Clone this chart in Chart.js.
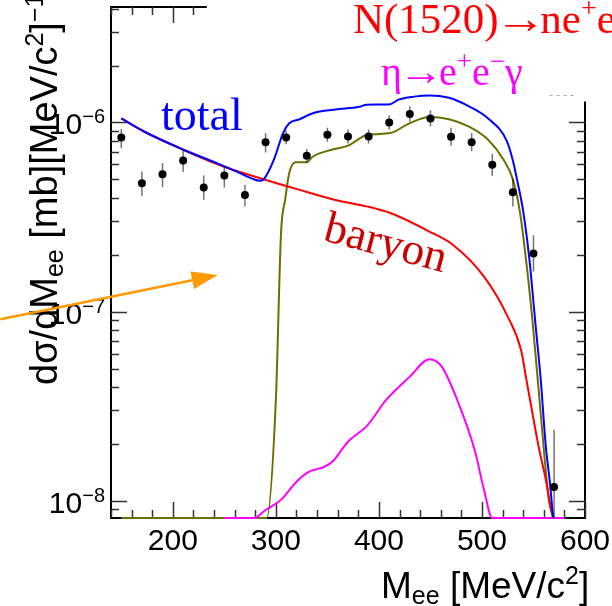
<!DOCTYPE html>
<html>
<head>
<meta charset="utf-8">
<script src="https://cdn.jsdelivr.net/npm/chart.js@4.4.0/dist/chart.umd.min.js"></script>
<style>
html, body { margin: 0; padding: 0; background: #fff; }
#contenedor { width: 612px; height: 606px; position: relative; }
</style>
</head>
<body>
<div id="contenedor"><canvas id="grafico"></canvas></div>
<script>
// Rango de los ejes
const X_MIN = 140, X_MAX = 600;
const Y_MIN = 8.1e-9, Y_MAX = 4.08e-6;

// Puntos experimentales con sus barras de error (limite alto / bajo)
const puntosX = [150, 170, 190, 210, 230, 250, 270, 290, 310, 330, 350, 370, 390, 410, 430, 450, 470, 490, 510, 530, 550, 570];
const puntosY = [8.34e-7, 4.77e-7, 5.33e-7, 6.29e-7, 4.53e-7, 5.25e-7, 4.14e-7, 7.87e-7, 8.34e-7, 6.66e-7, 8.61e-7, 8.43e-7, 8.43e-7, 1.00e-6, 1.11e-6, 1.05e-6, 8.40e-7, 7.87e-7, 5.97e-7, 4.27e-7, 2.03e-7, 1.18e-8];
const puntosAlto = [9.23e-7, 5.50e-7, 6.10e-7, 7.17e-7, 5.25e-7, 5.90e-7, 4.68e-7, 8.79e-7, 9.08e-7, 7.25e-7, 9.38e-7, 9.18e-7, 9.18e-7, 1.09e-6, 1.22e-6, 1.16e-6, 9.37e-7, 8.78e-7, 6.82e-7, 5.06e-7, 2.53e-7, 2.37e-8];
const puntosBajo = [7.33e-7, 4.09e-7, 4.55e-7, 5.47e-7, 3.90e-7, 4.53e-7, 3.59e-7, 6.94e-7, 7.66e-7, 6.12e-7, 7.91e-7, 7.74e-7, 7.74e-7, 9.18e-7, 1.01e-6, 9.53e-7, 7.53e-7, 7.05e-7, 5.22e-7, 3.60e-7, 1.63e-7, 5.0e-9];

// Curva total (azul)
const totalX = [150, 172, 210, 249, 265, 277, 284, 288, 298, 307, 313, 323, 336, 358, 381, 388, 411, 419, 434, 449, 468, 487, 506, 524, 530, 534, 540, 546, 548, 552, 557, 562, 566, 569];
const totalY = [1.05e-6, 8.96e-7, 7.2e-7, 5.9e-7, 5.4e-7, 5.05e-7, 4.92e-7, 5.0e-7, 6.35e-7, 8.79e-7, 9.9e-7, 1.04e-6, 1.12e-6, 1.17e-6, 1.21e-6, 1.24e-6, 1.25e-6, 1.32e-6, 1.37e-6, 1.39e-6, 1.35e-6, 1.22e-6, 1.05e-6, 8.0e-7, 6.3e-7, 5.0e-7, 3.4e-7, 1.9e-7, 1.47e-7, 8.5e-8, 4.4e-8, 1.93e-8, 1.24e-8, 8.1e-9];

// Contribucion barionica (rojo)
const barionX = [150, 172, 210, 249, 288, 323, 358, 388, 411, 449, 472, 502, 525, 538, 543, 549, 555, 562, 567, 570];
const barionY = [1.05e-6, 8.96e-7, 7.17e-7, 5.85e-7, 5.01e-7, 4.40e-7, 3.89e-7, 3.6e-7, 3.32e-7, 2.65e-7, 2.25e-7, 1.53e-7, 9.41e-8, 6.24e-8, 4.4e-8, 2.9e-8, 1.93e-8, 1.29e-8, 9.1e-9, 7.0e-9];

// Curva oliva (los ceros se pintan sobre el eje, como en ROOT)
const olivaX = [150, 291, 300, 305, 309, 313, 319, 330, 336, 354, 370, 389, 411, 430, 449, 468, 487, 506, 521, 530, 537, 545, 549, 557, 565, 569];
const olivaY = [0, 0, 3.41e-8, 2.6e-7, 3.9e-7, 5.4e-7, 6.16e-7, 6.16e-7, 6.61e-7, 7.17e-7, 7.54e-7, 8.61e-7, 8.79e-7, 9.93e-7, 1.07e-6, 1.04e-6, 9.53e-7, 8.1e-7, 6.35e-7, 5.0e-7, 3.32e-7, 1.47e-7, 9.0e-8, 2.9e-8, 1.0e-8, 0];

// Dalitz del eta (magenta)
const etaX = [250, 279, 290, 305, 320, 332, 347, 355, 370, 389, 407, 430, 449, 461, 476, 493, 502, 510, 580];
const etaY = [0, 0, 8.93e-9, 1.01e-8, 1.26e-8, 1.42e-8, 1.51e-8, 1.61e-8, 2.05e-8, 2.51e-8, 3.41e-8, 4.53e-8, 5.6e-8, 5.12e-8, 3.41e-8, 1.85e-8, 1.14e-8, 0, 0];

// Etiquetas de los ejes
const etiquetasX = [200, 300, 400, 500, 600];
const etiquetasY = [1e-8, 1e-7, 1e-6];
const exponentesY = ['\u22128', '\u22127', '\u22126'];

// Marco parcial: la linea de arriba llega hasta aqui, la derecha empieza aqui
const MARCO_SUP_HASTA_X = 233;
const MARCO_DER_DESDE_Y = 1.29e-6;

// Flecha naranja (coordenadas de datos)
const flechaDesde = { x: 32.7, y: 9.12e-8 };
const flechaHasta = { x: 243.6, y: 1.56e-7 };

const SANS = "'Liberation Sans', Arial, Helvetica, sans-serif";
const SERIF = "'Liberation Serif', 'Times New Roman', serif";

function pares(xs, ys) {
    return xs.map((x, i) => ({ x: x, y: Math.max(ys[i], Y_MIN) }));
}

// Dibuja trozos de texto seguidos (sub/superindices, flechas apretadas)
function dibujarPartes(ctx, x0, y0, partes, familia) {
    let x = x0;
    partes.forEach(p => {
        ctx.font = `${p.size}px ${familia}`;
        const sx = p.sx || 1;
        x += p.dx || 0;
        ctx.save();
        ctx.translate(x, y0 + (p.dy || 0));
        ctx.scale(sx, 1);
        ctx.fillText(p.t, 0, 0);
        ctx.restore();
        x += ctx.measureText(p.t).width * sx + (p.dx2 || 0);
    });
    return x;
}

const marcoRoot = {
    id: 'marcoRoot',
    // marco y marcas debajo de las curvas (las curvas en cero tapan el eje)
    beforeDatasetsDraw(chart) {
        const { ctx, chartArea: a, scales: { x, y } } = chart;
        const topeX = x.getPixelForValue(MARCO_SUP_HASTA_X);
        const inicioDer = y.getPixelForValue(MARCO_DER_DESDE_Y);
        ctx.save();
        ctx.strokeStyle = '#000';
        ctx.lineWidth = 2;
        ctx.beginPath();
        ctx.moveTo(topeX, a.top);
        ctx.lineTo(a.left, a.top);
        ctx.lineTo(a.left, a.bottom);
        ctx.lineTo(a.right, a.bottom);
        ctx.lineTo(a.right, inicioDer);
        ctx.stroke();

        ctx.lineWidth = 1.5;
        ctx.strokeStyle = '#333';
        for (let e = -9; e <= -6; e++) {
            for (let m = 1; m <= 9; m++) {
                const v = m * Math.pow(10, e);
                if (v < Y_MIN || v > Y_MAX) continue;
                const py = Math.round(y.getPixelForValue(v)) + 0.5;
                const largo = m === 1 ? 16 : 8;
                ctx.beginPath();
                ctx.moveTo(a.left, py);
                ctx.lineTo(a.left + largo, py);
                if (py >= inicioDer) {
                    ctx.moveTo(a.right, py);
                    ctx.lineTo(a.right - largo, py);
                }
                ctx.stroke();
            }
        }
        for (let v = X_MIN; v <= X_MAX; v += 20) {
            const px = Math.round(x.getPixelForValue(v)) + 0.5;
            const largo = v % 100 === 0 ? 16 : 8;
            ctx.beginPath();
            ctx.moveTo(px, a.bottom);
            ctx.lineTo(px, a.bottom - largo);
            if (px <= topeX) {
                ctx.moveTo(px, a.top);
                ctx.lineTo(px, a.top + largo);
            }
            ctx.stroke();
        }
        ctx.restore();
    },
    beforeDatasetDraw(chart, args) {
        if (chart.data.datasets[args.index].label !== 'datos') return;
        const { ctx, chartArea, scales: { x, y } } = chart;
        ctx.save();
        ctx.strokeStyle = 'rgba(0,0,0,0.55)';
        ctx.lineWidth = 1.5;
        puntosX.forEach((vx, i) => {
            const px = x.getPixelForValue(vx);
            const y1 = Math.max(y.getPixelForValue(puntosAlto[i]), chartArea.top);
            const y2 = Math.min(y.getPixelForValue(puntosBajo[i]), chartArea.bottom);
            ctx.beginPath();
            ctx.moveTo(px, y1);
            ctx.lineTo(px, y2);
            ctx.stroke();
        });
        ctx.restore();
    },
    afterDraw(chart) {
        const { ctx, chartArea: a, scales: { x, y } } = chart;
        ctx.save();

        // --- etiquetas ---
        ctx.fillStyle = '#000';
        ctx.textBaseline = 'alphabetic';
        ctx.font = `30px ${SANS}`;
        ctx.textAlign = 'center';
        etiquetasX.forEach(v => ctx.fillText(String(v), x.getPixelForValue(v), a.bottom + 32));

        ctx.textAlign = 'left';
        etiquetasY.forEach((v, i) => {
            const py = y.getPixelForValue(v);
            ctx.font = `20px ${SANS}`;
            const wExp = ctx.measureText(exponentesY[i]).width;
            ctx.font = `30px ${SANS}`;
            const wBase = ctx.measureText('10').width;
            const x0 = a.left - 6 - wExp - wBase;
            dibujarPartes(ctx, x0, py + 12, [
                { t: '10', size: 30 },
                { t: exponentesY[i], size: 20, dy: -11 }
            ], SANS);
        });

        // --- titulo eje X ---
        dibujarPartes(ctx, 381, 598, [
            { t: 'M', size: 37 },
            { t: 'ee', size: 25, dy: 6 },
            { t: ' [MeV/c', size: 37 },
            { t: '2', size: 25, dy: -14 },
            { t: ']', size: 37 }
        ], SANS);

        // --- titulo eje Y (rotado) ---
        ctx.save();
        ctx.translate(57, 385);
        ctx.rotate(-Math.PI / 2);
        dibujarPartes(ctx, 0, 0, [
            { t: 'd\u03c3/dM', size: 38 },
            { t: 'ee', size: 25, dy: 6 },
            { t: ' [mb][MeV/c', size: 38 },
            { t: '2', size: 25, dy: -14 },
            { t: ']', size: 38 },
            { t: '\u22121', size: 25, dy: -14 }
        ], SANS);
        ctx.restore();

        // --- rotulos de las curvas ---
        ctx.fillStyle = '#0000ff';
        ctx.font = `46px ${SERIF}`;
        ctx.fillText('total', 161, 130);

        ctx.save();
        ctx.translate(322, 240);
        ctx.rotate(15 * Math.PI / 180);
        ctx.fillStyle = '#cc0000';
        ctx.font = `45px ${SERIF}`;
        ctx.fillText('baryon', 0, 0);
        ctx.restore();

        ctx.fillStyle = '#ff0000';
        dibujarPartes(ctx, 353, 33, [
            { t: 'N(1520)', size: 43 },
            { t: '\u2192', size: 43, sx: 1.2, dx: -4, dx2: -6 },
            { t: 'ne', size: 43 },
            { t: '+', size: 28, dy: -16 },
            { t: 'e', size: 43 },
            { t: '\u2212', size: 28, dy: -16 }
        ], SERIF);

        ctx.fillStyle = '#ff00ff';
        dibujarPartes(ctx, 381, 85, [
            { t: '\u03b7', size: 40 },
            { t: '\u2192', size: 40, sx: 1.1, dx: -3, dx2: -4 },
            { t: 'e', size: 40 },
            { t: '+', size: 27, dy: -15 },
            { t: 'e', size: 40 },
            { t: '\u2212', size: 27, dy: -15 },
            { t: '\u03b3', size: 40 }
        ], SERIF);

        // resto punteado del cuadro de leyenda
        ctx.strokeStyle = '#aaa';
        ctx.lineWidth = 1;
        ctx.setLineDash([3, 4]);
        const yp = Math.round(y.getPixelForValue(1.40e-6)) + 0.5;
        ctx.beginPath();
        ctx.moveTo(x.getPixelForValue(565.7), yp);
        ctx.lineTo(x.getPixelForValue(592.8), yp);
        ctx.stroke();
        ctx.setLineDash([]);

        // --- flecha naranja ---
        const fx0 = x.getPixelForValue(flechaDesde.x), fy0 = y.getPixelForValue(flechaDesde.y);
        const fx1 = x.getPixelForValue(flechaHasta.x), fy1 = y.getPixelForValue(flechaHasta.y);
        const ang = Math.atan2(fy1 - fy0, fx1 - fx0);
        const largoPunta = 26, anchoPunta = 9;
        const bx = fx1 - largoPunta * Math.cos(ang), by = fy1 - largoPunta * Math.sin(ang);
        ctx.strokeStyle = '#ff9900';
        ctx.fillStyle = '#ff9900';
        ctx.lineWidth = 2.5;
        ctx.beginPath();
        ctx.moveTo(fx0, fy0);
        ctx.lineTo(bx, by);
        ctx.stroke();
        ctx.beginPath();
        ctx.moveTo(fx1, fy1);
        ctx.lineTo(bx + anchoPunta * Math.sin(ang), by - anchoPunta * Math.cos(ang));
        ctx.lineTo(bx - anchoPunta * Math.sin(ang), by + anchoPunta * Math.cos(ang));
        ctx.closePath();
        ctx.fill();

        ctx.restore();
    }
};

function curva(label, xs, ys, color, orden) {
    return {
        label: label,
        data: pares(xs, ys),
        showLine: true,
        borderColor: color,
        borderWidth: 2,
        pointRadius: 0,
        cubicInterpolationMode: 'monotone',
        fill: false,
        clip: 3,
        order: orden
    };
}

const ctx = document.getElementById('grafico').getContext('2d');
new Chart(ctx, {
    type: 'scatter',
    data: {
        datasets: [
            curva('oliva', olivaX, olivaY, '#6e6e00', 5),
            curva('baryon', barionX, barionY, '#ff0000', 4),
            curva('eta', etaX, etaY, '#ff00ff', 3),
            curva('total', totalX, totalY, '#0000ff', 2),
            {
                label: 'datos',
                data: pares(puntosX, puntosY),
                showLine: false,
                pointRadius: 4,
                pointBackgroundColor: '#000',
                pointBorderWidth: 0,
                clip: 5,
                order: 0
            }
        ]
    },
    options: {
        responsive: true,
        maintainAspectRatio: false,
        animation: false,
        events: [],
        layout: { padding: { left: 111, right: 27, top: 7, bottom: 88 } },
        scales: {
            x: { type: 'linear', min: X_MIN, max: X_MAX, display: false },
            y: { type: 'logarithmic', min: Y_MIN, max: Y_MAX, display: false }
        },
        plugins: { legend: { display: false }, tooltip: { enabled: false } }
    },
    plugins: [marcoRoot]
});
</script>
</body>
</html>
